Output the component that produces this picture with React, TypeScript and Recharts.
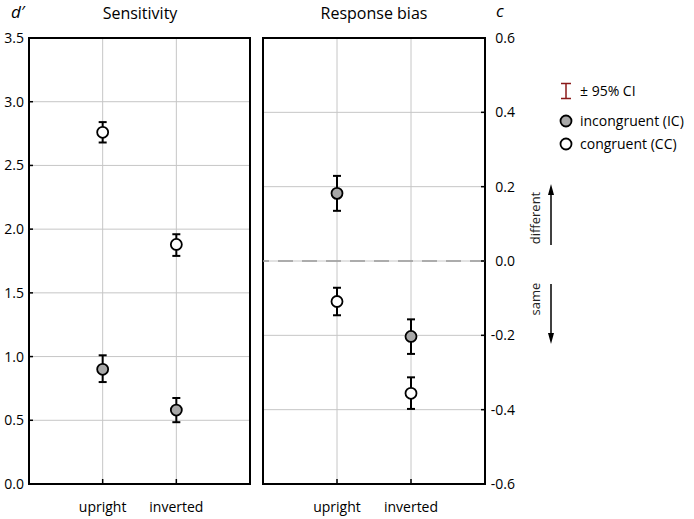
import React from 'react';
import { ScatterChart, Scatter, XAxis, YAxis, CartesianGrid, ErrorBar, ReferenceArea, ReferenceLine } from 'recharts';

const conditions = ['upright', 'inverted'];
const conditionPos = [1, 2];

// sensitivity d'
const dPrimeIC = [0.9, 0.58];
const dPrimeICLow = [0.8, 0.485];
const dPrimeICHigh = [1.01, 0.675];
const dPrimeCC = [2.76, 1.88];
const dPrimeCCLow = [2.68, 1.79];
const dPrimeCCHigh = [2.84, 1.96];

// response bias c
const biasIC = [0.182, -0.203];
const biasICLow = [0.135, -0.25];
const biasICHigh = [0.229, -0.157];
const biasCC = [-0.109, -0.356];
const biasCCLow = [-0.146, -0.398];
const biasCCHigh = [-0.072, -0.313];

const dPrimeTicks = [0, 0.5, 1, 1.5, 2, 2.5, 3, 3.5];
const biasTicks = [-0.6, -0.4, -0.2, 0, 0.2, 0.4, 0.6];

const FONT = '"Open Sans", sans-serif';
const GRID = '#c6c6c6';
const IC_FILL = '#a8a8a8';

const toPoints = (vals: number[], lows: number[], highs: number[]) =>
  vals.map((v, i) => ({ x: conditionPos[i], y: v, ci: [v - lows[i], highs[i] - v] }));

const dot = (fill: string) => (props: any) => (
  <circle cx={props.cx} cy={props.cy} r={5.5} fill={fill} stroke="#000" strokeWidth={1.8} />
);

const tickStyle = { fill: '#000', fontSize: 14, fontFamily: FONT };
const stub = { stroke: '#000', strokeWidth: 1.5 };

export default function App() {
  const dIC = toPoints(dPrimeIC, dPrimeICLow, dPrimeICHigh);
  const dCC = toPoints(dPrimeCC, dPrimeCCLow, dPrimeCCHigh);
  const cIC = toPoints(biasIC, biasICLow, biasICHigh);
  const cCC = toPoints(biasCC, biasCCLow, biasCCHigh);

  return (
    <div style={{ position: 'absolute', left: 0, top: 0, width: 694, height: 519, background: '#fff', fontFamily: FONT }}>
      <div style={{ position: 'absolute', left: 0, top: 0 }}>
        <ScatterChart width={252} height={519} margin={{ top: 37, right: 1, left: 0, bottom: 0 }}>
          <CartesianGrid stroke={GRID} strokeWidth={1} />
          <XAxis type="number" dataKey="x" domain={[0, 3]} ticks={conditionPos} height={35}
            tickFormatter={(v) => conditions[v - 1]} axisLine={false} tickSize={-5} tickMargin={23}
            tickLine={stub} tick={tickStyle} />
          <XAxis xAxisId="top" orientation="top" type="number" domain={[0, 3]} ticks={conditionPos} height={1}
            axisLine={false} tick={false} tickSize={-5} tickLine={stub} />
          <YAxis type="number" dataKey="y" domain={[0, 3.5]} ticks={dPrimeTicks} width={29}
            tickFormatter={(v) => v.toFixed(1)} axisLine={false} tickSize={-4} tickMargin={9}
            tickLine={stub} tick={tickStyle} />
          <YAxis yAxisId="r" orientation="right" type="number" domain={[0, 3.5]} ticks={dPrimeTicks} width={1}
            axisLine={false} tick={false} tickSize={-4} tickLine={stub} />
          <ReferenceArea x1={0} x2={3} y1={0} y2={3.5} fill="none" stroke="#000" strokeWidth={2} />
          <Scatter data={dIC} shape={dot(IC_FILL)} isAnimationActive={false}>
            <ErrorBar dataKey="ci" direction="y" width={4} stroke="#000" strokeWidth={2} />
          </Scatter>
          <Scatter data={dCC} shape={dot('#fff')} isAnimationActive={false}>
            <ErrorBar dataKey="ci" direction="y" width={4} stroke="#000" strokeWidth={2} />
          </Scatter>
        </ScatterChart>
      </div>
      <div style={{ position: 'absolute', left: 262, top: 0 }}>
        <ScatterChart width={263} height={519} margin={{ top: 37, right: 0, left: 0, bottom: 0 }}>
          <CartesianGrid stroke={GRID} strokeWidth={1} />
          <XAxis type="number" dataKey="x" domain={[0, 3]} ticks={conditionPos} height={35}
            tickFormatter={(v) => conditions[v - 1]} axisLine={false} tickSize={-5} tickMargin={23}
            tickLine={stub} tick={tickStyle} />
          <XAxis xAxisId="top" orientation="top" type="number" domain={[0, 3]} ticks={conditionPos} height={1}
            axisLine={false} tick={false} tickSize={-5} tickLine={stub} />
          <YAxis orientation="right" type="number" dataKey="y" domain={[-0.6, 0.6]} ticks={biasTicks} width={40}
            tickFormatter={(v) => v.toFixed(1)} axisLine={false} tickSize={-4} tickMargin={34}
            tickLine={stub} tick={{ ...tickStyle, textAnchor: 'end' }} />
          <YAxis yAxisId="l" orientation="left" type="number" domain={[-0.6, 0.6]} ticks={biasTicks} width={1}
            axisLine={false} tick={false} tickSize={-4} tickLine={stub} />
          <ReferenceLine y={0} stroke="#9a9a9a" strokeWidth={1.5} strokeDasharray="15 9" />
          <ReferenceArea x1={0} x2={3} y1={-0.6} y2={0.6} fill="none" stroke="#000" strokeWidth={2} />
          <Scatter data={cIC} shape={dot(IC_FILL)} isAnimationActive={false}>
            <ErrorBar dataKey="ci" direction="y" width={4} stroke="#000" strokeWidth={2} />
          </Scatter>
          <Scatter data={cCC} shape={dot('#fff')} isAnimationActive={false}>
            <ErrorBar dataKey="ci" direction="y" width={4} stroke="#000" strokeWidth={2} />
          </Scatter>
        </ScatterChart>
      </div>
      <svg width={694} height={519} style={{ position: 'absolute', left: 0, top: 0, pointerEvents: 'none' }}
        fontFamily={FONT}>
        <text x={11} y={18} fontSize={17} fontStyle="italic">d′</text>
        <text x={140} y={19} fontSize={16} textAnchor="middle">Sensitivity</text>
        <text x={374} y={19} fontSize={16} textAnchor="middle">Response bias</text>
        <text x={496} y={17} fontSize={17} fontStyle="italic">c</text>

        {/* legend */}
        <g stroke="#8b1a1a" strokeWidth={1.5}>
          <line x1={561} x2={571} y1={83.5} y2={83.5} />
          <line x1={566} x2={566} y1={83.5} y2={98.5} />
          <line x1={561} x2={571} y1={98.5} y2={98.5} />
        </g>
        <text x={580} y={96} fontSize={14}>± 95% CI</text>
        <circle cx={566} cy={121} r={5.5} fill={IC_FILL} stroke="#000" strokeWidth={1.8} />
        <text x={580} y={126} fontSize={14}>incongruent (IC)</text>
        <circle cx={566} cy={144} r={5.5} fill="#fff" stroke="#000" strokeWidth={1.8} />
        <text x={580} y={149} fontSize={14}>congruent (CC)</text>

        {/* direction arrows */}
        <line x1={551} x2={551} y1={245} y2={192} stroke="#000" strokeWidth={1.5} />
        <path d="M551,184 L554,195 L548,195 Z" fill="#000" />
        <text x={0} y={0} fontSize={13} textAnchor="middle" fill="#222"
          transform="translate(540,218) rotate(-90)">different</text>
        <line x1={551} x2={551} y1={284} y2={336} stroke="#000" strokeWidth={1.5} />
        <path d="M551,344 L554,333 L548,333 Z" fill="#000" />
        <text x={0} y={0} fontSize={13} textAnchor="middle" fill="#222"
          transform="translate(540,299) rotate(-90)">same</text>
      </svg>
    </div>
  );
}
